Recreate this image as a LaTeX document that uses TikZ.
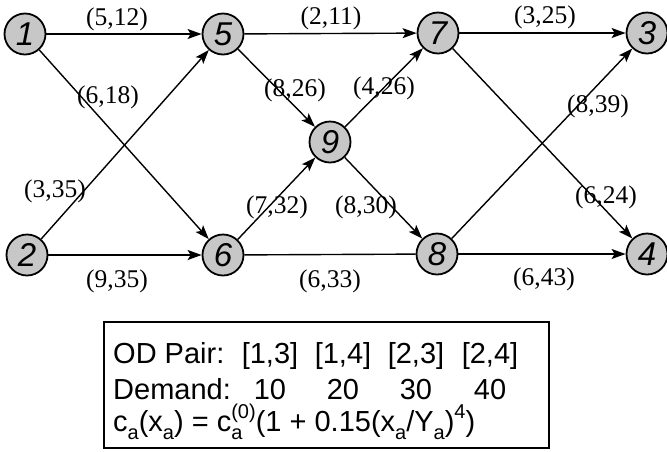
\documentclass[tikz,border=0pt]{standalone}
\usepackage{fontspec}
\setmainfont{Liberation Serif}
\newfontfamily\sansnum{Liberation Sans}
\usetikzlibrary{arrows.meta}
\newcommand\lowsub[1]{\raisebox{-0.28em}{\fontsize{20}{20}\selectfont #1}}
\newcommand\highsup[1]{\raisebox{0.42em}{\fontsize{20}{20}\selectfont #1}}
\begin{document}
\begin{tikzpicture}[x=1pt,y=-1pt,
  vert/.style={circle, draw, line width=1.8pt, fill=black!22, minimum size=41pt, inner sep=0pt,
    font=\sansnum\itshape\fontsize{33}{33}\selectfont},
  lbl/.style={font=\fontsize{25.5}{26}\selectfont, inner sep=0pt},
  arc/.style={line width=1.4pt, -{Stealth[length=14pt,width=10pt,inset=3pt]}},
  plainarc/.style={line width=1.4pt},
  boxtxt/.style={font=\sansnum\fontsize{29}{29}\selectfont, inner sep=0pt, anchor=base}
]
\useasboundingbox (0,0) rectangle (667,451);
% vertices
\node[vert] (n1) at (25,34) {1};
\node[vert] (n5) at (223,34) {5};
\node[vert] (n7) at (438,33) {7};
\node[vert] (n3) at (647,33) {3};
\node[vert] (n9) at (330,142) {9};
\node[vert] (n2) at (27,255) {2};
\node[vert] (n6) at (223,255) {6};
\node[vert] (n8) at (437,254) {8};
\node[vert] (n4) at (647,254) {4};
% arcs
\draw[arc] (n1) -- (n5);
\draw[arc] (n1) -- (n6);
\draw[arc] (n2) -- (n5);
\draw[arc] (n2) -- (n6);
\draw[arc] (n5) -- (n7);
\draw[arc] (n5) -- (n9);
\draw[arc] (n6) -- (n9);
\draw[plainarc] (n6) -- (n8);
\draw[arc] (n9) -- (n7);
\draw[arc] (n9) -- (n8);
\draw[arc] (n7) -- (n3);
\draw[arc] (n7) -- (n4);
\draw[arc] (n8) -- (n3);
\draw[arc] (n8) -- (n4);
% labels
\node[lbl] (l15) at (117,19) {(5,12)};
\node[lbl] (l57) at (331,18) {(2,11)};
\node[lbl] (l73) at (545,17) {(3,25)};
\node[lbl] (l16) at (108,97) {(6,18)};
\node[lbl] (l59) at (295,90) {(8,26)};
\node[lbl] (l97) at (384,88) {(4,26)};
\node[lbl] (l83) at (598,106) {(8,39)};
\node[lbl] (l25) at (55,191) {(3,35)};
\node[lbl] (l69) at (277,207) {(7,32)};
\node[lbl] (l98) at (366,207) {(8,30)};
\node[lbl] (l74) at (606,197) {(6,24)};
\node[lbl] (l26) at (117,281) {(9,35)};
\node[lbl] (l68) at (330,281) {(6,33)};
\node[lbl] (l84) at (544,279) {(6,43)};
% legend box
\node[draw, line width=1.5pt, minimum width=445pt, minimum height=126pt, anchor=north west, inner sep=0pt] (legend) at (103,321) {};
\node[boxtxt, anchor=base west] (od) at (113,363) {OD Pair:};
\node[boxtxt] (p13) at (270,363) {[1,3]};
\node[boxtxt] (p14) at (343,363) {[1,4]};
\node[boxtxt] (p23) at (416,363) {[2,3]};
\node[boxtxt] (p24) at (490,363) {[2,4]};
\node[boxtxt, anchor=base west] (dem) at (113,399) {Demand:};
\node[boxtxt] (d13) at (p13.base |- dem.base) {10};
\node[boxtxt] (d14) at (p14.base |- dem.base) {20};
\node[boxtxt] (d23) at (p23.base |- dem.base) {30};
\node[boxtxt] (d24) at (p24.base |- dem.base) {40};
\node[boxtxt, anchor=base west] (cost) at (113,431) {c\lowsub{a}(x\lowsub{a}) = c\rlap{\lowsub{a}}\highsup{(0)}(1 + 0.15(x\lowsub{a}/Y\lowsub{a})\highsup{4})};
\end{tikzpicture}
\end{document}
